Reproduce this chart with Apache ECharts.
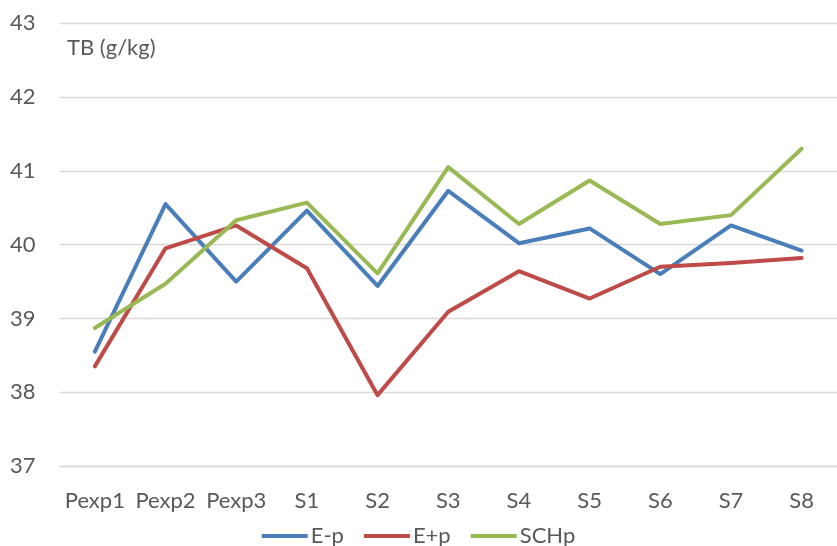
<!DOCTYPE html>
<html>
<head>
<meta charset="utf-8">
<style>
  html, body { margin: 0; padding: 0; background: #fff; }
  #chart { width: 837px; height: 546px; }
</style>
<script src="https://cdn.jsdelivr.net/npm/echarts@6/dist/echarts.min.js"></script>
</head>
<body>
<div id="chart"></div>
<script>
// Sampling periods
const categories = ['Pexp1', 'Pexp2', 'Pexp3', 'S1', 'S2', 'S3', 'S4', 'S5', 'S6', 'S7', 'S8'];

// TB (g/kg) per treatment
const ePminus = [38.55, 40.55, 39.50, 40.46, 39.44, 40.73, 40.02, 40.22, 39.60, 40.26, 39.92];
const ePplus  = [38.35, 39.95, 40.26, 39.68, 37.96, 39.09, 39.64, 39.27, 39.70, 39.75, 39.82];
const schp    = [38.87, 39.47, 40.33, 40.57, 39.61, 41.05, 40.28, 40.87, 40.28, 40.40, 41.30];

const seriesNames = ['E-p', 'E+p', 'SCHp'];
const seriesColors = ['#4a7ebb', '#be4b48', '#98b954'];

const FONT = 'Lato';
const TEXT = '#595959';

const chart = echarts.init(document.getElementById('chart'), null, { renderer: 'canvas' });

const values = [ePminus, ePplus, schp];

chart.setOption({
  animation: false,
  backgroundColor: '#ffffff',
  title: {
    text: 'TB (g/kg)',
    left: 62,
    top: 32,
    textStyle: { fontFamily: FONT, fontSize: 22, fontWeight: 'normal', color: TEXT }
  },
  legend: {
    data: seriesNames,
    left: 'center',
    top: 520,
    icon: 'rect',
    itemWidth: 46,
    itemHeight: 4,
    itemGap: 20,
    textStyle: { fontFamily: FONT, fontSize: 22, color: TEXT, padding: [0, 0, 0, -2] }
  },
  grid: { left: 59.5, right: -10.5, top: 23.3, bottom: 80, containLabel: false },
  xAxis: {
    type: 'category',
    data: categories,
    boundaryGap: true,
    axisLine: { show: true, lineStyle: { color: '#d9d9d9', width: 1.3 } },
    axisTick: { show: false },
    axisLabel: { fontFamily: FONT, fontSize: 22, color: TEXT, margin: 24, interval: 0 },
    splitLine: { show: false }
  },
  yAxis: {
    type: 'value',
    min: 37,
    max: 43,
    interval: 1,
    axisLine: { show: false },
    axisTick: { show: false },
    axisLabel: { fontFamily: FONT, fontSize: 22, color: TEXT, margin: 24 },
    splitLine: { lineStyle: { color: '#d9d9d9', width: 1.3 } }
  },
  series: seriesNames.map((name, i) => ({
    name: name,
    type: 'line',
    data: values[i],
    symbol: 'none',
    color: seriesColors[i],
    lineStyle: { width: 4, color: seriesColors[i], cap: 'round', join: 'round' }
  }))
});
</script>
</body>
</html>
